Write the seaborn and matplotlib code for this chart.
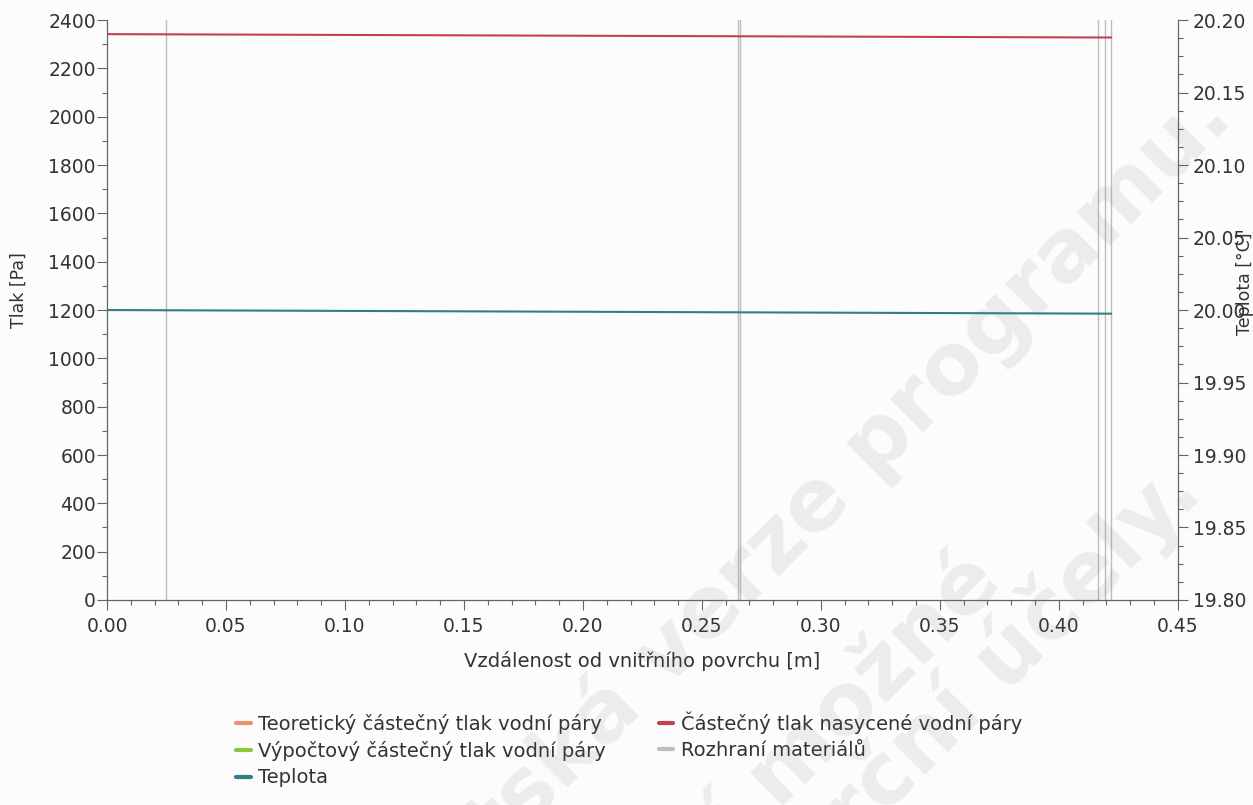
import matplotlib
matplotlib.use("Agg")
import matplotlib.pyplot as plt
import seaborn as sns
import pandas as pd
from matplotlib.lines import Line2D
from matplotlib.ticker import MultipleLocator, FormatStrFormatter

# --- data -------------------------------------------------------------
# distance from the inner surface [m]
x_sat = [0.0, 0.422]
p_sat = [2342, 2328]            # saturated vapour partial pressure [Pa]
x_temp = [0.0, 0.422]
t_temp = [20.000, 19.9975]      # temperature [°C]
x_theor, p_theor = [], []       # theoretical vapour partial pressure (no values)
x_calc, p_calc = [], []         # computed vapour partial pressure (no values)
interfaces = [0.025, 0.265, 0.266, 0.4165, 0.4195, 0.422]

labels = {
    "theor": "Teoretický částečný tlak vodní páry",
    "calc": "Výpočtový částečný tlak vodní páry",
    "temp": "Teplota",
    "sat": "Částečný tlak nasycené vodní páry",
    "iface": "Rozhraní materiálů",
}
colors = {
    "theor": "#f0906a",
    "calc": "#8cc63f",
    "temp": "#2f7f86",
    "sat": "#c2414f",
    "iface": "#bdbdbd",
}

# --- figure -----------------------------------------------------------
sns.set_theme(style="ticks")
plt.rcParams["font.family"] = ["DejaVu Sans"]
bg = "#fcfcfc"
fig = plt.figure(figsize=(12.53, 8.05), dpi=100, facecolor=bg)
ax = fig.add_axes([0.0854, 0.2547, 0.8546, 0.7203])
ax.set_facecolor(bg)
ax2 = ax.twinx()

df_sat = pd.DataFrame({"x": x_sat, "p": p_sat})
df_temp = pd.DataFrame({"x": x_temp, "t": t_temp})

for xv in interfaces:
    ax.axvline(xv, color=colors["iface"], lw=1.0, zorder=1)

if len(x_theor):
    sns.lineplot(x=x_theor, y=p_theor, ax=ax, color=colors["theor"], lw=1.4)
if len(x_calc):
    sns.lineplot(x=x_calc, y=p_calc, ax=ax, color=colors["calc"], lw=1.4)
sns.lineplot(data=df_sat, x="x", y="p", ax=ax, color=colors["sat"], lw=1.5, zorder=3)
sns.lineplot(data=df_temp, x="x", y="t", ax=ax2, color=colors["temp"], lw=1.5, zorder=3)

spine_c = "#5d6868"
txt_c = "#333333"
tick_fs = 13.5
lab_fs = 14

ax.set_xlim(0, 0.45)
ax.set_ylim(0, 2400)
ax2.set_ylim(19.80, 20.20)

ax.xaxis.set_major_locator(MultipleLocator(0.05))
ax.xaxis.set_minor_locator(MultipleLocator(0.01))
ax.xaxis.set_major_formatter(FormatStrFormatter("%.2f"))
ax.yaxis.set_major_locator(MultipleLocator(200))
ax.yaxis.set_minor_locator(MultipleLocator(100))
ax2.yaxis.set_major_locator(MultipleLocator(0.05))
ax2.yaxis.set_minor_locator(MultipleLocator(0.0125))
ax2.yaxis.set_major_formatter(FormatStrFormatter("%.2f"))

for a in (ax, ax2):
    a.tick_params(which="major", length=7, width=0.8, color=spine_c,
                  labelsize=tick_fs, labelcolor=txt_c)
    a.tick_params(which="minor", length=3.5, width=0.8, color=spine_c)
    for s in a.spines.values():
        s.set_color(spine_c)
        s.set_linewidth(0.9)
    a.spines["top"].set_visible(False)
ax.spines["right"].set_visible(False)
ax2.spines["left"].set_visible(False)
ax2.spines["bottom"].set_visible(False)
ax.tick_params(axis="y", which="major", pad=1)
ax.tick_params(axis="x", which="major", pad=5)
ax2.tick_params(axis="y", which="major", pad=4)

ax.set_xlabel("Vzdálenost od vnitřního povrchu [m]", fontsize=lab_fs, color=txt_c)
ax.xaxis.set_label_coords(0.5, -0.088)
ax.set_ylabel("Tlak [Pa]", fontsize=12.5, color=txt_c)
ax.yaxis.set_label_coords(-0.074, 0.535)
ax2.set_ylabel("Teplota [°C]", fontsize=12.5, color=txt_c)
ax2.yaxis.set_label_coords(1.054, 0.545)

# --- legend -----------------------------------------------------------
order = ["theor", "calc", "temp", "sat", "iface"]
handles = [Line2D([], [], color=colors[k], lw=3) for k in order]
fig.legend(handles, [labels[k] for k in order], ncol=2, frameon=False,
           loc="upper left", bbox_to_anchor=(0.1744, 0.1379),
           bbox_transform=fig.transFigure, fontsize=lab_fs,
           handlelength=0.75, handletextpad=0.4, labelspacing=0.37,
           columnspacing=2.7, labelcolor=txt_c)

# --- faint diagonal watermark ----------------------------------------
wm = dict(rotation=45, rotation_mode="anchor", ha="right", va="baseline",
          fontsize=62, fontweight="bold", color="#7a7a7a", alpha=0.12,
          transform=fig.transFigure, zorder=10)
fig.text(0.9856, 0.851, "Studentská verze programu.", **wm)
fig.text(0.802, 0.273, "Není možné", **wm)
fig.text(0.962, 0.385, "pro komerční účely.", **wm)

fig.savefig("out.png", dpi=100, facecolor=bg)
